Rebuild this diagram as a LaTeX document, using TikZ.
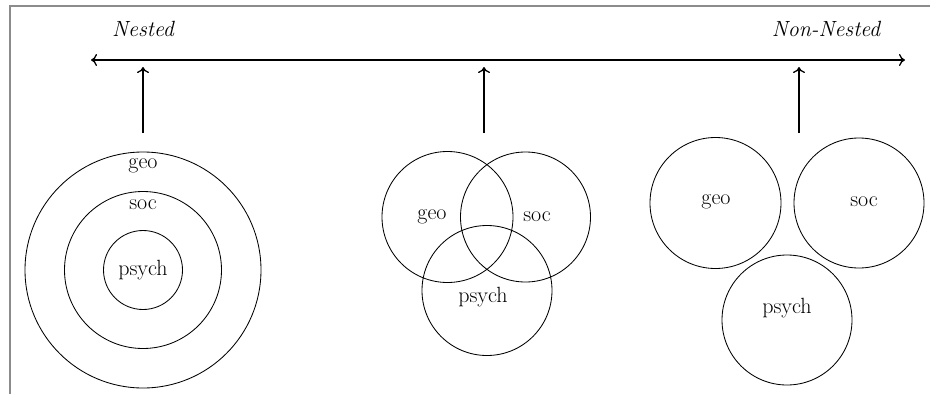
\documentclass[tikz,border=0pt]{standalone}
\usetikzlibrary{arrows.meta}
\begin{document}
\begin{tikzpicture}[x=1pt,y=-1pt,
  ring/.style={draw, circle, inner sep=0pt, line width=0.85pt},
  lbl/.style={font=\fontsize{22}{26}\selectfont, inner sep=0pt},
  axislbl/.style={font=\fontsize{22}{26}\selectfont\itshape, inner sep=0pt},
  arr/.style={line width=1.3pt, -{To[length=6pt,width=12pt]}},
  frame/.style={draw=black!45, line width=1.4pt}]
\useasboundingbox (0,0) rectangle (930,394);
% partial frame
\draw[frame] (930,6) -- (10,6) -- (10,394);

% axis
\coordinate (axL) at (91,60);
\coordinate (axR) at (905,60);
\draw[line width=1.3pt, {To[length=6pt,width=12pt]}-{To[length=6pt,width=12pt]}] (axL) -- (axR);
\node[axislbl] (nested) at (143,29) {Nested};
\node[axislbl] (nonnested) at (826,29) {Non-Nested};

% pointers
\coordinate (p1s) at (143,133); \coordinate (p1e) at (143,67);
\coordinate (p2s) at (484,133); \coordinate (p2e) at (484,67);
\coordinate (p3s) at (799,133); \coordinate (p3e) at (799,67);
\draw[arr] (p1s) -- (p1e);
\draw[arr] (p2s) -- (p2e);
\draw[arr] (p3s) -- (p3e);

% nested
\node[ring, minimum size=236] (n-geo) at (143,270) {};
\node[ring, minimum size=157] (n-soc) at (143,270) {};
\node[ring, minimum size=79] (n-psych) at (143,270) {};
\node[lbl] (n-geo-t) at (143,166) {geo};
\node[lbl] (n-soc-t) at (143,205) {soc};
\node[lbl] (n-psych-t) at (143,270) {psych};

% overlapping
\node[ring, minimum size=131] (o-geo) at (447.5,217) {};
\node[ring, minimum size=130] (o-soc) at (525.5,217) {};
\node[ring, minimum size=130] (o-psych) at (487,290.5) {};
\node[lbl] (o-geo-t) at (432,217) {geo};
\node[lbl] (o-soc-t) at (537,217) {soc};
\node[lbl] (o-psych-t) at (483,297) {psych};

% separate
\node[ring, minimum size=131] (s-geo) at (715.5,203) {};
\node[ring, minimum size=130] (s-soc) at (859,203) {};
\node[ring, minimum size=130] (s-psych) at (787,320) {};
\node[lbl] (s-geo-t) at (716,202) {geo};
\node[lbl] (s-soc-t) at (864,202) {soc};
\node[lbl] (s-psych-t) at (787,308) {psych};
\end{tikzpicture}
\end{document}
